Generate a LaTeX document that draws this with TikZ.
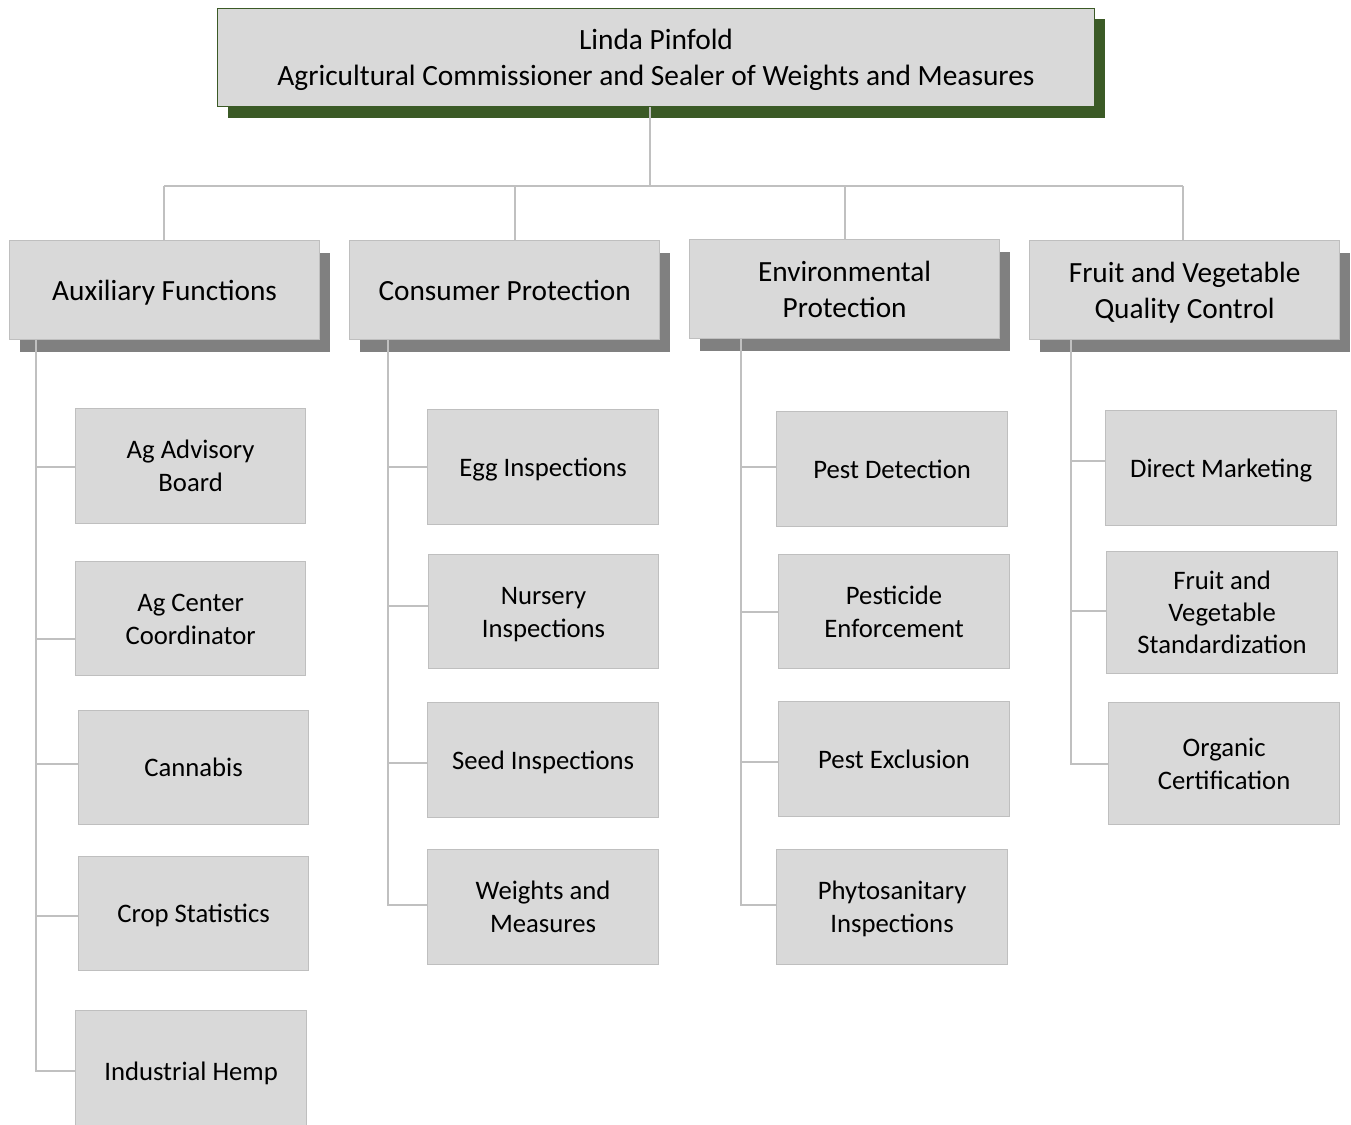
\documentclass[tikz,border=0pt]{standalone}
\usepackage{fontspec}
\setmainfont{Carlito}
\usetikzlibrary{shadows}
\definecolor{boxfill}{HTML}{D9D9D9}
\definecolor{boxline}{HTML}{BFBFBF}
\definecolor{conn}{HTML}{C0C0C0}
\definecolor{topgreen}{HTML}{3B5A26}
\definecolor{shadowgray}{HTML}{808080}
\newcommand\ws{\rule[-0.25em]{0pt}{1.2em}}
\tikzset{
  topbox/.style={draw=topgreen, line width=1pt, fill=boxfill, anchor=north west, inner sep=0pt, align=center,
    font=\fontsize{29.4}{36}\selectfont,
    general shadow={shadow xshift=10pt, shadow yshift=-11pt, fill=topgreen}},
  headbox/.style={draw=boxline, line width=1.2pt, fill=boxfill, anchor=north west, inner sep=0pt, align=center,
    minimum width=310pt, minimum height=99pt, font=\fontsize{29.3}{36}\selectfont,
    general shadow={shadow xshift=10pt, shadow yshift=-12pt, fill=shadowgray}},
  childbox/.style={draw=boxline, line width=1.2pt, fill=boxfill, anchor=north west, inner sep=0pt, align=center,
    minimum width=231pt, minimum height=115pt, font=\fontsize{26.7}{32}\selectfont},
  conline/.style={draw=conn, line width=1.3pt}
}
\begin{document}
\begin{tikzpicture}[x=1pt,y=-1pt]
\useasboundingbox (0,0) rectangle (1351,1124);
\clip (0,0) rectangle (1351,1124);
% top
\node[topbox, minimum width=877pt, minimum height=98pt] (top) at (217,8) {\ws Linda Pinfold\\Agricultural Commissioner and Sealer of Weights and Measures\ws};
% connectors top level
\coordinate (hub) at (650,186);
\coordinate (hl) at (164,186);
\coordinate (hr) at (1183,186);
% headers
\node[headbox] (aux) at (9,240) {\ws Auxiliary Functions\ws};
\node[headbox] (con) at (349,240) {\ws Consumer Protection\ws};
\node[headbox] (env) at (689,239) {\ws Environmental\\Protection\ws};
\node[headbox] (fru) at (1029,240) {\ws Fruit and Vegetable\\Quality Control\ws};
\draw[conline] (top.south -| hub) -- (hub);
\draw[conline] (hl) -- (hr);
\draw[conline] (hl) -- (hl |- aux.north);
\draw[conline] (515,186) -- (515,240);
\draw[conline] (845,186) -- (845,239);
\draw[conline] (hr) -- (hr |- fru.north);
% children: auxiliary
\node[childbox, minimum width=230pt] (a1) at (75,408) {\ws Ag Advisory\\Board\ws};
\node[childbox, minimum width=230pt, minimum height=114pt] (a2) at (75,561) {\ws Ag Center\\Coordinator\ws};
\node[childbox, minimum width=230pt, minimum height=114pt] (a3) at (78,710) {\ws Cannabis\ws};
\node[childbox, minimum width=230pt, minimum height=114pt] (a4) at (78,856) {\ws Crop Statistics\ws};
\node[childbox, minimum width=231pt, minimum height=122pt] (a5) at (75,1010) {\ws Industrial Hemp\ws};
% children: consumer
\node[childbox] (c1) at (427,409) {\ws Egg Inspections\ws};
\node[childbox, minimum width=230pt, minimum height=114pt] (c2) at (428,554) {\ws Nursery\\Inspections\ws};
\node[childbox] (c3) at (427,702) {\ws Seed Inspections\ws};
\node[childbox] (c4) at (427,849) {\ws Weights and\\Measures\ws};
% children: environmental
\node[childbox] (e1) at (776,411) {\ws Pest Detection\ws};
\node[childbox, minimum height=114pt] (e2) at (778,554) {\ws Pesticide\\Enforcement\ws};
\node[childbox] (e3) at (778,701) {\ws Pest Exclusion\ws};
\node[childbox] (e4) at (776,849) {\ws Phytosanitary\\Inspections\ws};
% children: fruit
\node[childbox] (f1) at (1105,410) {\ws Direct Marketing\ws};
\node[childbox, minimum height=122pt] (f2) at (1106,551) {\ws Fruit and\\Vegetable\\Standardization\ws};
\node[childbox, minimum height=122pt] (f3) at (1108,702) {\ws Organic\\Certification\ws};
% spines
\coordinate (sa) at (36,1071);
\coordinate (sc) at (388,905);
\coordinate (se) at (741,905);
\coordinate (sf) at (1071,764);
\draw[conline] (sa |- aux.south) -- (sa) -- (sa -| a5.west);
\draw[conline] (sc |- con.south) -- (sc) -- (sc -| c4.west);
\draw[conline] (se |- env.south) -- (se) -- (se -| e4.west);
\draw[conline] (sf |- fru.south) -- (sf) -- (sf -| f3.west);
% branches
\foreach \n/\y/\s in {a1/467/sa, a2/639/sa, a3/764/sa, a4/916/sa,
                      c1/467/sc, c2/606/sc, c3/763/sc,
                      e1/467/se, e2/612/se, e3/762/se,
                      f1/461/sf, f2/611/sf}{
  \draw[conline] (\s |- 0,\y) -- (\n.west |- 0,\y);
}
\end{tikzpicture}
\end{document}
